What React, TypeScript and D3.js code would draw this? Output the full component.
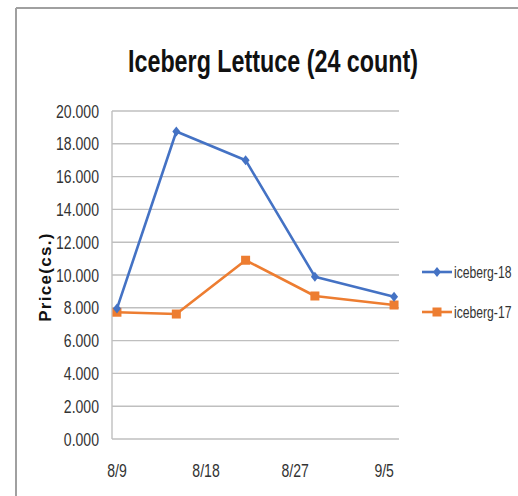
import * as d3 from 'd3'

// ─── Data ─────────────────────────────────────────────────────────────────────

const dates = ['2018-08-09', '2018-08-15', '2018-08-22', '2018-08-29', '2018-09-06']
const iceberg18 = [7.95, 18.75, 17.0, 9.9, 8.68]
const iceberg17 = [7.73, 7.62, 10.9, 8.72, 8.17]
const xTickDates = ['2018-08-09', '2018-08-18', '2018-08-27', '2018-09-05']
const xTickLabels = ['8/9', '8/18', '8/27', '9/5']
const yTicks = [0, 2, 4, 6, 8, 10, 12, 14, 16, 18, 20]
const seriesNames = ['iceberg-18', 'iceberg-17']

// ─── Constants ────────────────────────────────────────────────────────────────

const W = 518
const H = 496
const PLOT = { left: 112, right: 399, top: 111, bottom: 439 }
const BLUE = '#4472C4'
const ORANGE = '#ED7D31'
const GRID = '#bfbfbf'
const SANS = '"Liberation Sans", Arial, sans-serif'
const SQUEEZE = 0.74
const HALF_DAY = 12 * 3600 * 1000

const parse = (s: string) => new Date(s + 'T00:00:00Z')

function Diamond({ x, y, color }: { x: number; y: number; color: string }) {
  const r = 5
  return (
    <path
      d={`M${x},${y - r} L${x + r * 0.8},${y} L${x},${y + r} L${x - r * 0.8},${y} Z`}
      fill={color}
    />
  )
}

function Square({ x, y, color }: { x: number; y: number; color: string }) {
  const s = 9
  return <rect x={x - s / 2} y={y - s / 2} width={s} height={s} fill={color} />
}

export default function App() {
  const first = parse(dates[0])
  const last = parse(dates[dates.length - 1])
  const xScale = d3
    .scaleUtc()
    .domain([new Date(+first - HALF_DAY), new Date(+last + HALF_DAY)])
    .range([PLOT.left, PLOT.right])
  const yScale = d3.scaleLinear().domain([0, 20]).range([PLOT.bottom, PLOT.top])

  const pts = (vals: number[]) => dates.map((d, i) => [xScale(parse(d)), yScale(vals[i])] as [number, number])
  const line = d3.line<[number, number]>()
  const p18 = pts(iceberg18)
  const p17 = pts(iceberg17)

  return (
    <div style={{ position: 'absolute', left: 0, top: 0 }}>
      <svg width={W} height={H} style={{ display: 'block', background: '#fff' }}>
        {/* frame */}
        <line x1={16} y1={8} x2={W} y2={8} stroke="#a0a0a0" strokeWidth={2} />
        <line x1={16} y1={8} x2={16} y2={H} stroke="#a0a0a0" strokeWidth={2} />

        {/* title */}
        <text
          x={273}
          y={72}
          textAnchor="middle"
          fontFamily={SANS}
          fontWeight="bold"
          fontSize={32}
          textLength={290}
          lengthAdjust="spacingAndGlyphs"
          fill="#111"
        >
          Iceberg Lettuce (24 count)
        </text>

        {/* gridlines */}
        {yTicks.map((t) => (
          <line
            key={t}
            x1={PLOT.left}
            x2={PLOT.right}
            y1={yScale(t)}
            y2={yScale(t)}
            stroke={GRID}
            strokeWidth={1.4}
          />
        ))}
        <line x1={PLOT.left} x2={PLOT.left} y1={PLOT.top} y2={PLOT.bottom} stroke={GRID} strokeWidth={1.4} />

        {/* y tick labels */}
        {yTicks.map((t) => (
          <g key={t} transform={`translate(99,${yScale(t) + 6.5}) scale(${SQUEEZE},1)`}>
            <text textAnchor="end" fontFamily={SANS} fontSize={19} fill="#333">
              {t.toFixed(3)}
            </text>
          </g>
        ))}

        {/* x tick labels */}
        {xTickDates.map((d, i) => (
          <g key={d} transform={`translate(${xScale(parse(d))},477) scale(${SQUEEZE},1)`}>
            <text textAnchor="middle" fontFamily={SANS} fontSize={19} fill="#333">
              {xTickLabels[i]}
            </text>
          </g>
        ))}

        {/* y axis title */}
        <text
          transform="translate(51,277) rotate(-90)"
          textAnchor="middle"
          fontFamily={SANS}
          fontWeight="bold"
          fontSize={17}
          letterSpacing={1.3}
          fill="#111"
        >
          Price(cs.)
        </text>

        {/* series */}
        <path d={line(p17) ?? ''} fill="none" stroke={ORANGE} strokeWidth={2.6} strokeLinejoin="round" />
        {p17.map(([x, y], i) => (
          <Square key={i} x={x} y={y} color={ORANGE} />
        ))}
        <path d={line(p18) ?? ''} fill="none" stroke={BLUE} strokeWidth={2.6} strokeLinejoin="round" />
        {p18.map(([x, y], i) => (
          <Diamond key={i} x={x} y={y} color={BLUE} />
        ))}

        {/* legend */}
        {seriesNames.map((name, i) => {
          const y = 272 + i * 40
          const color = i === 0 ? BLUE : ORANGE
          return (
            <g key={name}>
              <line x1={422} x2={452} y1={y} y2={y} stroke={color} strokeWidth={2.6} />
              {i === 0 ? <Diamond x={437} y={y} color={color} /> : <Square x={437} y={y} color={color} />}
              <g transform={`translate(454,${y + 5.5}) scale(0.76,1)`}>
                <text fontFamily={SANS} fontSize={16} fill="#333">
                  {name}
                </text>
              </g>
            </g>
          )
        })}
      </svg>
    </div>
  )
}
